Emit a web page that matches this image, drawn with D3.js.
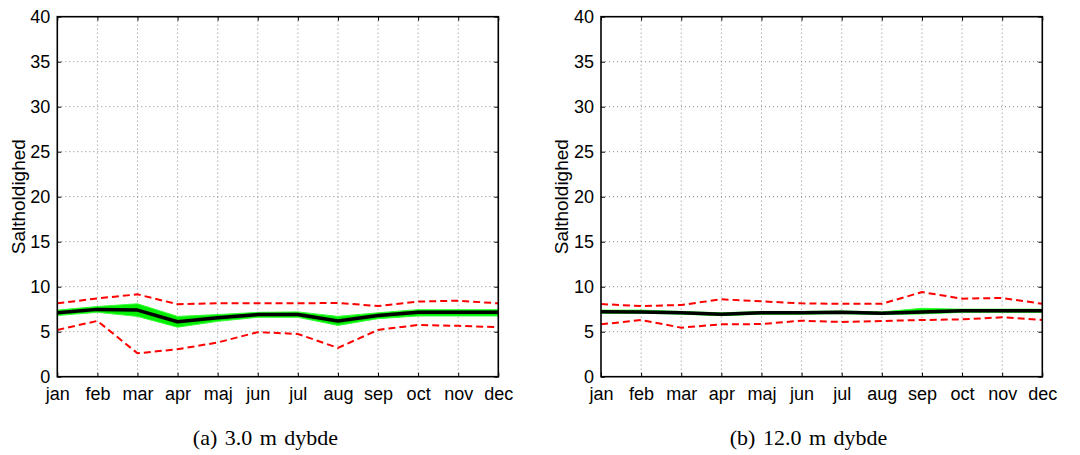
<!DOCTYPE html>
<html>
<head>
<meta charset="utf-8">
<script src="https://cdn.jsdelivr.net/npm/d3@7"></script>
<style>
  body { margin: 0; background: #fff; }
  svg { display: block; }
  .sans { font-family: 'Liberation Sans', Arial, Helvetica, sans-serif; }
  .serif { font-family: 'Liberation Serif', 'Times New Roman', Times, serif; }
</style>
</head>
<body>
<svg id="fig" width="1080" height="455"></svg>
<script>
// months on the x axis
var months = ['jan', 'feb', 'mar', 'apr', 'maj', 'jun', 'jul', 'aug', 'sep', 'oct', 'nov', 'dec'];
var yTicks = [0, 5, 10, 15, 20, 25, 30, 35, 40];

// (a) 3.0 m dybde
var meanA  = [7.1, 7.48, 7.4, 6.1, 6.55, 6.9, 6.9, 6.2, 6.8, 7.15, 7.15, 7.15];
var bandLoA = [6.8, 7.15, 6.7, 5.5, 6.15, 6.6, 6.6, 5.7, 6.45, 6.75, 6.75, 6.75];
var bandHiA = [7.4, 7.8, 8.1, 6.7, 6.9, 7.15, 7.2, 6.7, 7.1, 7.45, 7.45, 7.45];
var maxA   = [8.15, 8.7, 9.15, 8.05, 8.15, 8.15, 8.15, 8.2, 7.85, 8.35, 8.45, 8.15];
var minA   = [5.2, 6.2, 2.6, 3.05, 3.8, 4.95, 4.75, 3.2, 5.2, 5.75, 5.65, 5.5];

// (b) 12.0 m dybde
var meanB  = [7.22, 7.2, 7.1, 6.93, 7.1, 7.1, 7.15, 7.05, 7.2, 7.33, 7.33, 7.33];
var bandLoB = [7.05, 7.05, 6.95, 6.78, 6.95, 6.95, 7.0, 6.9, 6.97, 7.15, 7.15, 7.15];
var bandHiB = [7.4, 7.4, 7.25, 7.1, 7.25, 7.25, 7.3, 7.2, 7.6, 7.5, 7.5, 7.5];
var maxB   = [8.07, 7.85, 7.97, 8.6, 8.37, 8.15, 8.1, 8.1, 9.4, 8.67, 8.75, 8.1];
var minB   = [5.82, 6.3, 5.45, 5.82, 5.85, 6.22, 6.08, 6.19, 6.3, 6.37, 6.6, 6.3];

var svg = d3.select('#fig');

function drawPanel (opt) {
    var top = 16.7, bottom = 376.7,
        g = svg.append('g');

    var x = d3.scalePoint().domain(months).range([opt.left, opt.right]);
    var y = d3.scaleLinear().domain([0, 40]).range([bottom, top]);

    // grid (dotted)
    g.selectAll('line.vgrid').data(months.slice(1, -1)).enter().append('line')
        .attr('x1', function (d) { return x(d); }).attr('x2', function (d) { return x(d); })
        .attr('y1', top).attr('y2', bottom)
        .attr('stroke', '#888').attr('stroke-width', 1).attr('stroke-dasharray', '1,3');
    g.selectAll('line.hgrid').data(yTicks.slice(1, -1)).enter().append('line')
        .attr('x1', opt.left).attr('x2', opt.right)
        .attr('y1', function (d) { return y(d); }).attr('y2', function (d) { return y(d); })
        .attr('stroke', '#888').attr('stroke-width', 1).attr('stroke-dasharray', '1,3');

    // green band
    var area = d3.area()
        .x(function (d, i) { return x(months[i]); })
        .y0(function (d, i) { return y(opt.lo[i]); })
        .y1(function (d) { return y(d); });
    g.append('path').datum(opt.hi)
        .attr('d', area)
        .attr('fill', '#00ee00')
        .attr('stroke', '#33ff33').attr('stroke-width', 1);

    var line = d3.line()
        .x(function (d, i) { return x(months[i]); })
        .y(function (d) { return y(d); });

    // red dashed min / max
    [opt.max, opt.min].forEach(function (s) {
        g.append('path').datum(s)
            .attr('d', line)
            .attr('fill', 'none')
            .attr('stroke', '#ff0000')
            .attr('stroke-width', 2)
            .attr('stroke-dasharray', '7,4');
    });

    // mean
    g.append('path').datum(opt.mean)
        .attr('d', line)
        .attr('fill', 'none')
        .attr('stroke', '#000')
        .attr('stroke-width', 3.5)
        .attr('stroke-linejoin', 'round');

    // axes, MATLAB style box with inward ticks
    var xAxis = d3.axisBottom(x).tickSize(-4).tickPadding(9);
    var gx = g.append('g').attr('transform', 'translate(0,' + bottom + ')').call(xAxis);
    var gxt = g.append('g').attr('transform', 'translate(0,' + top + ')')
        .call(d3.axisTop(x).tickSize(-4).tickFormat(''));
    var yAxis = d3.axisLeft(y).tickValues(yTicks).tickSize(-4).tickPadding(7);
    var gy = g.append('g').attr('transform', 'translate(' + opt.left + ',0)').call(yAxis);
    var gyr = g.append('g').attr('transform', 'translate(' + opt.right + ',0)')
        .call(d3.axisRight(y).tickValues(yTicks).tickSize(-4).tickFormat(''));

    [gx, gxt, gy, gyr].forEach(function (a) {
        a.select('.domain').remove();
        a.attr('font-family', null).attr('font-size', null);
        a.selectAll('.tick line').attr('stroke', '#000').attr('stroke-width', 1);
    });
    [gx, gy].forEach(function (a) {
        a.selectAll('text')
            .attr('class', 'sans')
            .attr('fill', '#000')
            .attr('font-size', 18);
    });
    gy.selectAll('text').attr('dy', '0.33em');
    gx.selectAll('text').attr('dy', '0.78em');

    g.append('rect')
        .attr('x', opt.left).attr('y', top)
        .attr('width', opt.right - opt.left).attr('height', bottom - top)
        .attr('fill', 'none').attr('stroke', '#000').attr('stroke-width', 1.6);

    // y label
    g.append('text')
        .attr('class', 'sans')
        .attr('transform', 'translate(' + opt.labelX + ',' + ((top + bottom) / 2) + ') rotate(-90)')
        .attr('text-anchor', 'middle')
        .attr('font-size', 19)
        .text('Saltholdighed');

    // caption
    svg.append('text')
        .attr('class', 'serif')
        .attr('x', opt.capX).attr('y', 445)
        .attr('text-anchor', 'middle')
        .attr('font-size', 22)
        .style('word-spacing', '2px')
        .text(opt.caption);
}

drawPanel({ left: 57.3, right: 498.3, labelX: 25, capX: 265.5, caption: '(a) 3.0 m dybde',
    mean: meanA, lo: bandLoA, hi: bandHiA, max: maxA, min: minA });
drawPanel({ left: 601, right: 1042.3, labelX: 568, capX: 808.5, caption: '(b) 12.0 m dybde',
    mean: meanB, lo: bandLoB, hi: bandHiB, max: maxB, min: minB });
</script>
</body>
</html>
